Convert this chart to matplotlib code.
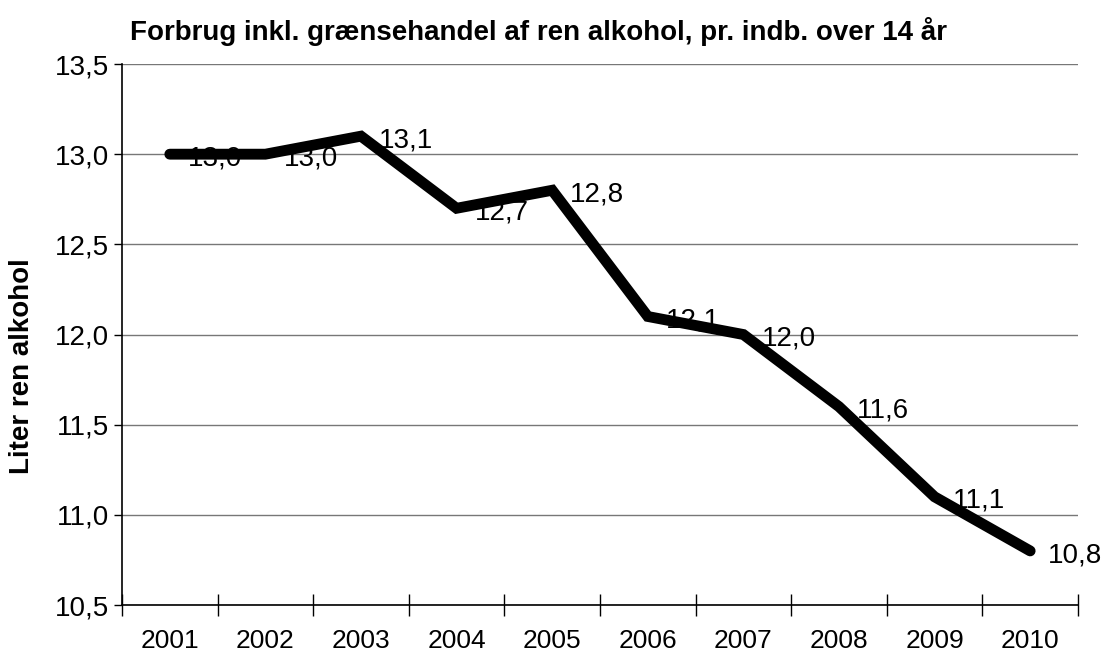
import matplotlib
matplotlib.use('Agg')
import matplotlib.pyplot as plt

plt.rcParams['font.family'] = ['Liberation Sans', 'DejaVu Sans']

years = ['2001', '2002', '2003', '2004', '2005', '2006', '2007', '2008', '2009', '2010']
liters = [13.0, 13.0, 13.1, 12.7, 12.8, 12.1, 12.0, 11.6, 11.1, 10.8]
yticks = [10.5, 11.0, 11.5, 12.0, 12.5, 13.0, 13.5]

fig = plt.figure(figsize=(11.02, 6.6), dpi=100)
ax = fig.add_axes([0.1107, 0.0833, 0.8675, 0.8197])

xs = [i + 0.5 for i in range(len(years))]
ax.plot(xs, liters, color='black', linewidth=7.8, solid_capstyle='round',
        solid_joinstyle='miter', zorder=3)

for x, v in zip(xs, liters):
    ax.annotate(('%.1f' % v).replace('.', ','), (x, v), xytext=(13, -3),
                textcoords='offset points', ha='left', va='center',
                fontsize=20, zorder=4)

ax.set_xlim(0, len(years))
ax.set_ylim(10.5, 13.5)
ax.set_yticks(yticks)
ax.set_yticklabels([('%.1f' % t).replace('.', ',') for t in yticks], fontsize=20)
ax.set_xticks(range(len(years) + 1))
ax.set_xticklabels([])
ax.set_xticks(xs, minor=True)
ax.set_xticklabels(years, minor=True, fontsize=19)
ax.tick_params(axis='x', which='major', direction='inout', length=16, width=1)
ax.tick_params(axis='x', which='minor', length=0, pad=17)
ax.tick_params(axis='y', direction='out', length=6, width=1, pad=3)

ax.grid(axis='y', color='#777777', linewidth=1)
ax.set_axisbelow(True)
for s in ['top', 'right']:
    ax.spines[s].set_visible(False)
ax.spines['left'].set_linewidth(1.2)
ax.spines['bottom'].set_linewidth(1.2)

fig.text(0.118, 0.94, 'Forbrug inkl. grænsehandel af ren alkohol, pr. indb. over 14 år',
         fontsize=20, fontweight='bold', ha='left', va='baseline')
fig.text(0.02, 0.445, 'Liter ren alkohol', rotation=90, fontsize=20,
         fontweight='bold', ha='center', va='center')

fig.savefig('out.png', dpi=100)
